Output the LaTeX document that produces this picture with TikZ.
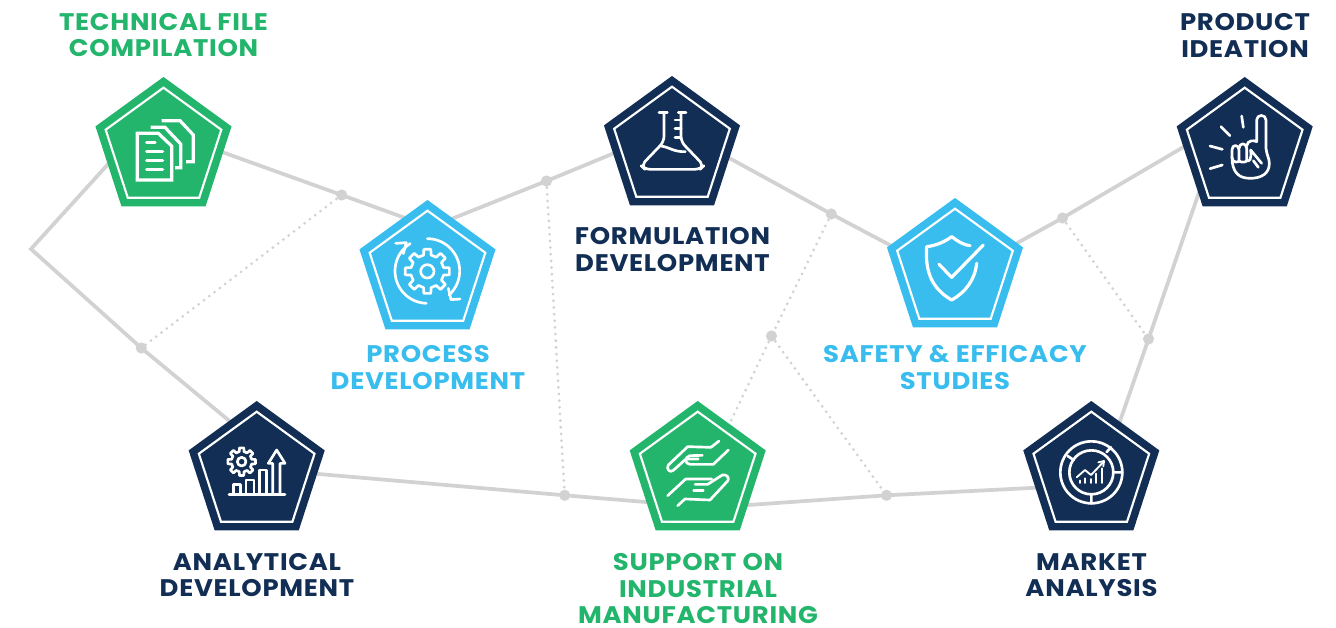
\documentclass[tikz,border=0pt]{standalone}
\usepackage{fontspec}
\setmainfont{Poppins}[FakeStretch=1.08,LetterSpace=3]
\usetikzlibrary{shapes.geometric,backgrounds}
\definecolor{cgreen}{HTML}{23B56C}
\definecolor{cblue}{HTML}{38BDEE}
\definecolor{cnavy}{HTML}{122E54}
\definecolor{cgray}{HTML}{D2D2D2}
\tikzset{
  pent/.style={regular polygon,regular polygon sides=5,minimum size=107.3pt,inner sep=0pt,outer sep=0pt,fill=#1},
  inpent/.style={regular polygon,regular polygon sides=5,minimum size=91.2pt,inner sep=0pt,outer sep=0pt,draw=white,line width=1.6pt},
  dotn/.style={circle,fill=cgray,minimum size=8.4pt,inner sep=0pt,outer sep=0pt},
  solidline/.style={draw=cgray,line width=2.8pt,line join=miter},
  dotline/.style={draw=cgray,line width=2.3pt,line cap=round,dash pattern=on 0pt off 5pt},
  lbl/.style={text=#1,anchor=north,align=center,inner sep=0pt,font=\bfseries\fontsize{18}{20}\selectfont},
  icon/.style={draw=white,line width=2pt,line join=round,line cap=round,fill=none},
  iconb/.style={draw=white,line width=2.4pt,line join=round,line cap=round,fill=none},
  zoomed/.style={x=.25pt,y=-.25pt}
}
\newcommand{\gearpath}[5]{% cx cy rout rin style
  \draw[#5] ([shift={(-13:#4)}]#1,#2)
    \foreach \a in {0,45,...,315}{
      -- ([shift={(\a-13:#4)}]#1,#2) -- ([shift={(\a-9:#3)}]#1,#2) -- ([shift={(\a+9:#3)}]#1,#2) -- ([shift={(\a+13:#4)}]#1,#2)
    } -- cycle;}
\begin{document}
\begin{tikzpicture}[x=.75pt,y=-.75pt]
\useasboundingbox (0,0) rectangle (1336,628);
% pentagons
\node[pent=cgreen] (tech) at (163.5,148.5) {};
\node[pent=cblue]  (proc) at (427.5,271.5) {};
\node[pent=cnavy]  (form) at (672,147.5) {};
\node[pent=cblue]  (safe) at (955,269.5) {};
\node[pent=cnavy]  (prod) at (1244.7,148.5) {};
\node[pent=cnavy]  (anal) at (256.7,472.5) {};
\node[pent=cgreen] (supp) at (697.7,472.5) {};
\node[pent=cnavy]  (mark) at (1091.3,472.5) {};
\foreach \n/\c in {tech/tech,proc/proc,form/form,safe/safe,prod/prod,anal/anal,supp/supp,mark/mark}
  \node[inpent] (\n in) at (\c.center) {};
% junction dots
\node[dotn] (d1) at (341.7,195) {};
\node[dotn] (d2) at (546.5,181) {};
\node[dotn] (d3) at (831.3,214) {};
\node[dotn] (d4) at (1062.5,218) {};
\node[dotn] (d5) at (1148.5,339) {};
\node[dotn] (d6) at (771.5,336) {};
\node[dotn] (d7) at (886.5,495.3) {};
\node[dotn] (d8) at (564.7,495.3) {};
\node[dotn] (d9) at (141.3,348) {};
\coordinate (corner) at (31,249);
\begin{scope}[on background layer]
\draw[solidline] ([shift={(26.5,-8)}]tech.center) -- (d1.center) -- ([shift={(2.5,-44.5)}]proc.center);
\draw[solidline] ([shift={(12.5,-48)}]proc.center) -- (d2.center) -- ([shift={(-32,-5)}]form.center);
\draw[solidline] ([shift={(28,-5.5)}]form.center) -- (d3.center) -- ([shift={(-35,-8.5)}]safe.center);
\draw[solidline] ([shift={(35,-11.5)}]safe.center) -- (d4.center) -- ([shift={(-34.7,-17)}]prod.center);
\draw[solidline] ([shift={(-38,21.5)}]prod.center) -- (d5.center) -- ([shift={(18.7,-22.5)}]mark.center);
\draw[solidline] ([shift={(-31,14)}]mark.center) -- (d7.center) -- ([shift={(22,34.5)}]supp.center);
\draw[solidline] ([shift={(-27.7,31.5)}]supp.center) -- (d8.center) -- ([shift={(33,-1)}]anal.center);
\draw[solidline] ([shift={(-6.7,-34.5)}]anal.center) -- (d9.center) -- (corner) -- ([shift={(-33.5,-8.5)}]tech.center);
\draw[dotline] (d1.center) -- (d9.center);
\draw[dotline] (d2.center) -- (d8.center);
\draw[dotline] (d3.center) -- (d6.center);
\draw[dotline] (d6.center) -- ([shift={(19.3,-22.5)}]supp.center);
\draw[dotline] (d6.center) -- (d7.center);
\draw[dotline] (d4.center) -- (d5.center);
\end{scope}
% labels
\node[lbl=cgreen] (ltech) at (163.5,13) {TECHNICAL FILE\\COMPILATION};
\node[lbl=cblue]  (lproc) at (428,345) {PROCESS\\DEVELOPMENT};
\node[lbl=cnavy]  (lform) at (672.5,227) {FORMULATION\\DEVELOPMENT};
\node[lbl=cblue]  (lsafe) at (955,345) {SAFETY \& EFFICACY\\STUDIES};
\node[lbl=cnavy]  (lprod) at (1245,13) {PRODUCT\\IDEATION};
\node[lbl=cnavy]  (lanal) at (257,553) {ANALYTICAL\\DEVELOPMENT};
\node[lbl=cgreen] (lsupp) at (698,553) {SUPPORT ON\\INDUSTRIAL\\MANUFACTURING};
\node[lbl=cnavy]  (lmark) at (1091.5,553) {MARKET\\ANALYSIS};
% --- icons, coordinates in 3x crop pixels ---
% documents
\begin{scope}[shift={(80,70)},zoomed]
\draw[iconb,line cap=butt,line join=miter] (172,190) -- (235,190) -- (275,228) -- (275,330) -- (172,330) -- cycle;
\draw[iconb,line cap=butt,line join=miter] (212,172) -- (255,172) -- (302,222) -- (302,293) -- (285,293);
\draw[iconb,line cap=butt,line join=miter] (245,152) -- (300,152) -- (340,195) -- (340,275) -- (318,275);
\draw[iconb] (200,218) -- (225,218) (200,245) -- (248,245) (200,272) -- (248,272) (200,298) -- (248,298);
\end{scope}
% process gear
\begin{scope}[shift={(345,195)},zoomed]
\gearpath{247}{229}{67}{50}{icon}
\draw[icon] (247,229) circle[radius=20];
\draw[icon] plot[domain=-90:48,samples=30] ({247+97*cos(\x)},{228+97*sin(\x)});
\draw[icon] (310,280) -- (318,314) -- (345,312);
\draw[icon] plot[domain=92:238,samples=30] ({247+97*cos(\x)},{228+97*sin(\x)});
\draw[icon] (152,145) -- (184,143) -- (175,176);
\end{scope}
% flask
\begin{scope}[shift={(590,70)},zoomed]
\draw[icon] (207,127) -- (232,127) (265,127) -- (288,127);
\draw[icon,rounded corners=4pt] (222,127) -- (222,215) -- (153,287) -- (165,298) -- (330,298) -- (342,287) -- (273,215) -- (273,127);
\draw[icon] (255,150) -- (273,150) (255,176) -- (273,176) (255,203) -- (273,203);
\draw[icon] (213,228) .. controls (240,232) and (250,246) .. (286,245);
\end{scope}
% shield
\begin{scope}[shift={(870,195)},zoomed]
\draw[iconb] (300,152) .. controls (280,150) and (262,138) .. (245,125) .. controls (225,140) and (198,152) .. (170,155) .. controls (165,230) and (185,280) .. (245,315) .. controls (285,293) and (315,255) .. (320,205);
\draw[iconb] (207,208) -- (245,247) -- (340,150);
\end{scope}
% pointing hand
\begin{scope}[shift={(1160,70)},zoomed]
\draw[icon] (245,138) -- (250,172) (183,170) -- (210,197) (150,228) -- (187,238) (150,296) -- (187,285);
\draw[icon] (216,240) .. controls (216,222) and (236,222) .. (237,240) -- (237,272) .. controls (237,278) and (216,280) .. (216,262) -- cycle;
\draw[icon] (237,235) .. controls (238,217) and (259,217) .. (260,235) -- (260,272) .. controls (258,278) and (240,278) .. (237,272);
\draw[icon] (260,228) .. controls (262,210) and (282,210) .. (290,215) -- (290,150) .. controls (290,132) and (318,132) .. (318,150) -- (318,235) .. controls (320,255) and (328,265) .. (328,280) .. controls (328,310) and (305,325) .. (270,325) .. controls (235,325) and (216,305) .. (216,262);
\draw[icon] (260,272) .. controls (268,274) and (275,272) .. (272,240) -- (305,280);
\draw[icon] (280,272) -- (295,292);
\end{scope}
% gear and bars
\begin{scope}[shift={(175,395)},zoomed]
\gearpath{200}{200}{42}{31}{icon}
\draw[icon] (200,200) circle[radius=13];
\draw[icon] (162,298) -- (330,298);
\draw[icon] (175,298) -- (175,268) -- (197,268) -- (197,298);
\draw[icon] (213,298) -- (213,255) -- (237,255) -- (237,298);
\draw[icon] (253,298) -- (253,225) -- (275,225) -- (275,298);
\draw[icon] (293,298) -- (293,205) -- (280,205) -- (305,165) -- (330,205) -- (315,205) -- (315,298);
\end{scope}
% hands
\begin{scope}[shift={(615,395)},zoomed]
\draw[icon] (312,138) -- (288,157) -- (218,155) -- (160,210) .. controls (152,222) and (165,235) .. (175,226) -- (213,192) -- (250,192);
\draw[icon] (262,181) -- (225,182) .. controls (208,186) and (208,206) .. (225,208) -- (295,208) -- (340,165);
\draw[icon] (158,302) -- (212,252) -- (290,252);
\draw[icon] (240,268) -- (278,268) -- (322,240) .. controls (335,236) and (345,250) .. (338,258) -- (285,315) -- (210,312) -- (188,332);
\draw[icon] (236,286) -- (265,286);
\end{scope}
% market chart
\begin{scope}[shift={(1005,395)},zoomed]
\draw[icon] (259,232) circle[radius=93];
\draw[icon] (259,232) circle[radius=66];
\draw[icon] (259,298) -- (259,325) (325,232) -- (352,232) (188,183) -- (206,195) (305,171) -- (318,157);
\draw[icon,line width=1.4pt] (215,247) -- (240,225) -- (258,240) -- (296,200);
\draw[icon,line width=1.4pt] (280,202) -- (297,198) -- (295,214);
\draw[icon,line width=1.4pt] (225,257) -- (225,264) (240,250) -- (240,264) (258,252) -- (258,264) (273,236) -- (273,264) (290,220) -- (290,264);
\end{scope}
\end{tikzpicture}
\end{document}
